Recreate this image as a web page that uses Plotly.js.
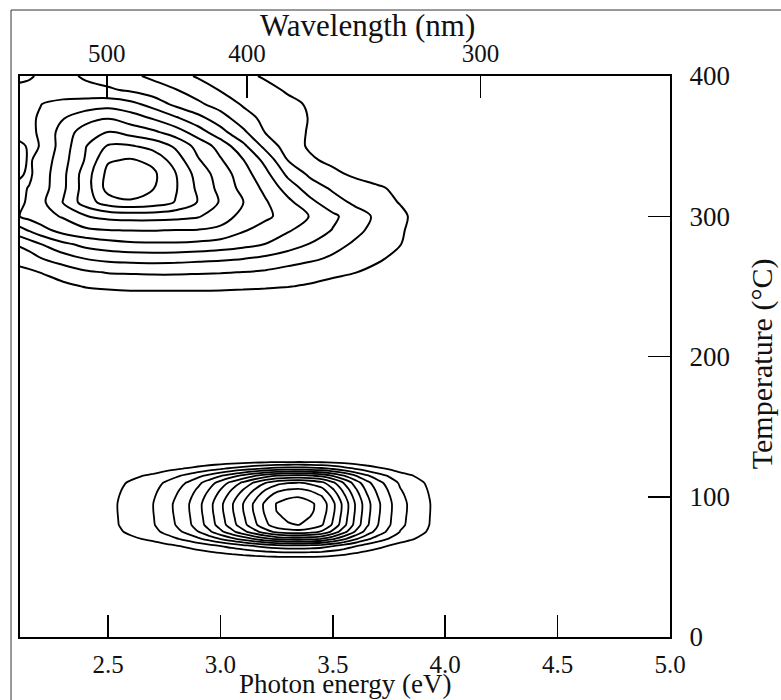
<!DOCTYPE html>
<html>
<head>
<meta charset="utf-8">
<script src="https://cdn.plot.ly/plotly-3.0.1.min.js"></script>
<style>
html,body{margin:0;padding:0;background:#fff;}
#chart{width:781px;height:700px;}
</style>
</head>
<body>
<div id="chart"></div>
<script>
// ---------- data ----------
// Upper emission band (high temperature): intensity read as contour-level index
const upperEnergy = [2.1, 2.15, 2.2, 2.3, 2.4, 2.5, 2.6, 2.7, 2.8, 2.9, 3.0, 3.1, 3.2, 3.3, 3.4, 3.5, 3.6, 3.7, 3.8, 3.9, 4.0];
const upperTemp = [240, 250, 260, 270, 280, 290, 300, 310, 320, 330, 340, 350, 360, 370, 380, 390, 400];
const upperZ = [
  [0.1, 0.12, 0.15, 0.25, 0.4, 0.5, 0.55, 0.55, 0.55, 0.55, 0.5, 0.5, 0.45, 0.4, 0.35, 0.25, 0.15, 0.1, 0.05, 0, 0],
  [0.3, 0.4, 0.5, 0.8, 1.05, 1.15, 1.2, 1.2, 1.2, 1.2, 1.2, 1.15, 1.1, 1.03, 0.9, 0.7, 0.5, 0.3, 0.15, 0.05, 0],
  [0.75, 0.85, 1.02, 1.4, 1.85, 2.05, 2.1, 2.15, 2.15, 2.1, 2.05, 1.98, 1.85, 1.6, 1.4, 1.2, 1.02, 0.7, 0.4, 0.2, 0.05],
  [1.3, 1.5, 1.97, 2.55, 3.05, 3.3, 3.4, 3.45, 3.4, 3.3, 3.2, 3.05, 2.8, 2.5, 2.2, 1.85, 1.5, 1.15, 0.7, 0.35, 0.1],
  [2.1, 2.5, 2.97, 3.75, 4.3, 4.6, 4.8, 4.85, 4.85, 4.75, 4.55, 4.3, 3.98, 3.45, 2.95, 2.35, 1.85, 1.4, 1.02, 0.6, 0.25],
  [3.6, 4.1, 4.6, 5.4, 5.8, 5.97, 6.03, 6.03, 5.97, 5.95, 5.8, 5.1, 4.6, 4.1, 3.55, 2.95, 2.25, 1.65, 1.1, 0.6, 0.25],
  [4.95, 5.3, 5.6, 6.1, 6.95, 7.3, 7.4, 7.4, 7.3, 7.1, 6.4, 5.75, 5.2, 4.6, 3.95, 3.2, 2.45, 1.8, 1.2, 0.6, 0.25],
  [4.85, 5.1, 5.7, 7.05, 8.5, 9.5, 9.85, 9.6, 8.95, 7.95, 6.9, 6.02, 5.1, 4.26, 3.25, 2.4, 1.8, 1.35, 0.95, 0.5, 0.2],
  [4.8, 5.05, 5.5, 6.8, 8.5, 10.4, 10.6, 10.05, 9.1, 7.8, 6.7, 5.7, 4.77, 3.57, 2.5, 1.85, 1.5, 1.15, 0.75, 0.4, 0.15],
  [5.15, 4.85, 5.45, 6.76, 8.5, 10.3, 10.5, 10.2, 9.05, 7.6, 6.54, 5.47, 4.3, 2.78, 1.8, 1.25, 0.8, 0.5, 0.25, 0.1, 0],
  [5.3, 4.9, 5.3, 6.64, 8.1, 9.9, 10.1, 9.75, 8.53, 7.1, 6.1, 5.05, 3.7, 1.98, 1.15, 0.75, 0.45, 0.25, 0.1, 0, 0],
  [5.2, 4.9, 5.02, 6.5, 7.95, 9.1, 9.1, 8.65, 7.85, 6.65, 5.63, 4.27, 2.7, 1.5, 0.85, 0.5, 0.3, 0.1, 0, 0, 0],
  [4.7, 4.85, 5.1, 6.45, 7.5, 8.05, 7.6, 7.2, 6.5, 5.5, 4.35, 3.22, 1.95, 1.4, 0.9, 0.6, 0.35, 0.15, 0.05, 0, 0],
  [4.7, 4.85, 5.1, 5.95, 6.6, 6.95, 6.5, 5.9, 5.15, 4.3, 3.45, 2.4, 1.75, 1.35, 0.95, 0.6, 0.35, 0.15, 0, 0, 0],
  [4.75, 4.85, 4.98, 5.3, 5.45, 5.6, 5.3, 4.6, 3.75, 3.2, 2.55, 1.9, 1.55, 1.2, 0.9, 0.55, 0.3, 0.1, 0, 0, 0],
  [4.7, 4.6, 4.5, 4.4, 4.3, 4.15, 3.85, 3.45, 3.05, 2.5, 1.95, 1.6, 1.25, 0.9, 0.55, 0.25, 0.1, 0, 0, 0, 0],
  [5.3, 5.15, 4.8, 4.3, 3.85, 3.5, 3.2, 2.8, 2.35, 1.9, 1.6, 1.2, 0.9, 0.6, 0.3, 0.1, 0, 0, 0, 0, 0]
];

// Lower emission band (~90 °C): energy profile and temperature profile
const lowerEnergy = [2.40, 2.45, 2.50, 2.55, 2.60, 2.65, 2.70, 2.75, 2.80, 2.85, 2.90, 2.95, 3.00, 3.05, 3.10, 3.15, 3.20,
                     3.25, 3.30, 3.35, 3.40, 3.45, 3.50, 3.55, 3.60, 3.65, 3.70, 3.75, 3.80, 3.85, 3.90, 3.95, 4.00, 4.05];
const lowerEnergyProfile = [0, 0.36, 0.71, 1.06, 1.375, 1.69, 1.99, 2.56, 3.14, 3.81, 4.67, 5.65, 6.75, 7.87, 8.98, 10.13, 11.21,
                     12.05, 12.4, 12.52, 12.2, 11.6, 10.26, 8.63, 6.94, 5.42, 4.2, 3.24, 2.3, 1.8, 1.31, 0.85, 0.42, 0];
const lowerTemp = [50, 55, 60, 65, 70, 75, 80, 85, 90, 95, 100, 105, 110, 115, 120, 125, 130];
const lowerTempProfile = [0, 0.03, 0.15, 0.3, 0.6, 0.85, 0.96, 0.98, 0.998, 1.0, 0.955, 0.89, 0.8, 0.58, 0.28, 0.07, 0];

// Axes
const energyTicks = [2.5, 3.0, 3.5, 4.0, 4.5, 5.0];
const energyTickLabels = ['2.5', '3.0', '3.5', '4.0', '4.5', '5.0'];
const wavelengthTicks = [500, 400, 300];
const tempTicks = [0, 100, 200, 300, 400];
const HC = 1247; // eV·nm, as placed on the figure's top axis
const energyRange = [2.108, 5.0];
const tempRange = [0, 400];

// ---------- chart ----------
const lowerZ = lowerTempProfile.map(a => lowerEnergyProfile.map(b => a * b));

const FONT = 'Liberation Serif, Times New Roman, serif';

const traces = [
  {
    type: 'contour', x: upperEnergy, y: upperTemp, z: upperZ,
    xaxis: 'x2', yaxis: 'y',
    autocontour: false,
    contours: {coloring: 'none', start: 1, end: 10, size: 1, showlabels: false},
    line: {color: '#000', width: 2, smoothing: 1},
    showscale: false, hoverinfo: 'skip'
  },
  {
    type: 'contour', x: lowerEnergy, y: lowerTemp, z: lowerZ,
    xaxis: 'x', yaxis: 'y',
    autocontour: false,
    contours: {coloring: 'none', start: 1, end: 12, size: 1, showlabels: false},
    line: {color: '#000', width: 1.8, smoothing: 0.6},
    showscale: false, hoverinfo: 'skip'
  }
];

const axisCommon = {
  ticks: 'inside', ticklen: 22, tickwidth: 1.5, tickcolor: '#000',
  showline: true, linecolor: '#000', linewidth: 2,
  showgrid: false, zeroline: false,
  tickfont: {family: FONT, size: 25, color: '#111'}
};

const layout = {
  width: 781, height: 700,
  margin: {l: 20, r: 111, t: 76, b: 63, pad: 0},
  paper_bgcolor: '#fff', plot_bgcolor: '#fff',
  showlegend: false,
  font: {family: FONT, color: '#111'},
  xaxis: Object.assign({}, axisCommon, {
    range: energyRange, tickmode: 'array', tickvals: energyTicks, ticktext: energyTickLabels,
    ticklabelstandoff: 4
  }),
  xaxis2: Object.assign({}, axisCommon, {
    overlaying: 'x', side: 'top', anchor: 'y',
    range: energyRange, tickmode: 'array',
    tickvals: wavelengthTicks.map(w => HC / w), ticktext: wavelengthTicks.map(String),
    tickfont: {family: FONT, size: 25, color: '#111'},
    ticklabelstandoff: 2
  }),
  yaxis: Object.assign({}, axisCommon, {
    side: 'right', range: tempRange, tickmode: 'array', tickvals: tempTicks,
    tickfont: {family: FONT, size: 27, color: '#111'},
    mirror: true, ticklabelstandoff: 12
  }),
  annotations: [
    {text: 'Wavelength (nm)', xref: 'paper', yref: 'paper', x: 0.5346, y: 1.09,
     xanchor: 'center', yanchor: 'middle', showarrow: false, font: {family: FONT, size: 31, color: '#111'}},
    {text: 'Photon energy (eV)', xref: 'paper', yref: 'paper', x: 0.5, y: -0.084,
     xanchor: 'center', yanchor: 'middle', showarrow: false, font: {family: FONT, size: 27, color: '#111'}},
    {text: 'Temperature (°C)', xref: 'paper', yref: 'paper', x: 1.1415, y: 0.488, textangle: -90,
     xanchor: 'center', yanchor: 'middle', showarrow: false, font: {family: FONT, size: 30, color: '#111'}}
  ],
  shapes: [
    {type: 'line', xref: 'paper', yref: 'paper', x0: -0.0138, x1: -0.0138, y0: -0.12, y1: 1.1176,
     line: {color: '#333', width: 1}},
    {type: 'line', xref: 'paper', yref: 'paper', x0: -0.0138, x1: 1.2, y0: 1.1176, y1: 1.1176,
     line: {color: '#333', width: 1}}
  ]
};

Plotly.newPlot('chart', traces, layout, {displayModeBar: false, staticPlot: true});
</script>
</body>
</html>
